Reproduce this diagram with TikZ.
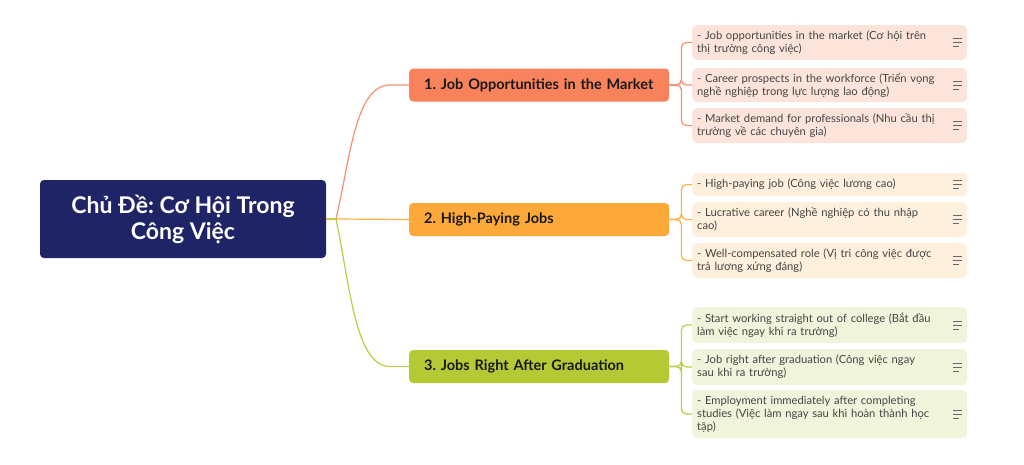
\documentclass[tikz,border=0pt]{standalone}
\usepackage{fontspec}
\setmainfont{Lato}
\usepackage{tikz}
\usetikzlibrary{calc,positioning}
\frenchspacing

\definecolor{navy}{HTML}{1F2466}
\definecolor{coral}{HTML}{F7825C}
\definecolor{amber}{HTML}{FCA93A}
\definecolor{lime}{HTML}{B4C934}
\definecolor{coralline}{HTML}{F5906E}
\definecolor{amberline}{HTML}{FDB04A}
\definecolor{limeline}{HTML}{B9CD45}
\definecolor{coralpale}{HTML}{FDE4DB}
\definecolor{amberpale}{HTML}{FEF0DC}
\definecolor{limepale}{HTML}{F0F4DA}
\definecolor{leaftext}{HTML}{444444}

\begin{document}
\begin{tikzpicture}[x=1pt, y=-1pt,
  topic/.style={rectangle, rounded corners=4pt, fill=navy, text=white, align=center,
    minimum width=286pt, minimum height=78pt, font=\fontsize{23}{26}\selectfont\bfseries},
  branch/.style={rectangle, rounded corners=4pt, anchor=west, text width=230pt, inner xsep=15pt,
    minimum height=33pt, align=left, text=black!90, font=\fontsize{14.5}{16}\selectfont\bfseries},
  leaf/.style={rectangle, rounded corners=5pt, anchor=west, text width=265pt, inner xsep=5pt,
    align=left, text=leaftext, font=\fontsize{11.2}{13}\selectfont},
  link/.style={line width=1.2pt},
  icon/.style={draw=black!60, line width=0.8pt}]

  \useasboundingbox (0,0) rectangle (1024,464);

  \node[topic] (root) at (183,219) {Chủ Đề: Cơ Hội Trong\\Công Việc};
  \coordinate (hub) at (336,219);

  \node[branch, fill=coral] (b1) at (409,85) {1. Job Opportunities in the Market};
  \node[branch, fill=amber] (b2) at (409,219.5) {2. High-Paying Jobs};
  \node[branch, fill=lime] (b3) at (409,366.5) {3. Jobs Right After Graduation};

  \node[leaf, fill=coralpale, minimum height=35pt] (l11) at (692,42.5) {- Job opportunities in the market (Cơ hội trên\\thị trường công việc)};
  \node[leaf, fill=coralpale, minimum height=34pt] (l12) at (692,85) {- Career prospects in the workforce (Triển vọng\\nghề nghiệp trong lực lượng lao động)};
  \node[leaf, fill=coralpale, minimum height=35pt] (l13) at (692,125.5) {- Market demand for professionals (Nhu cầu thị\\trường về các chuyên gia)};

  \node[leaf, fill=amberpale, minimum height=23pt] (l21) at (692,184.5) {- High-paying job (Công việc lương cao)};
  \node[leaf, fill=amberpale, minimum height=35pt] (l22) at (692,219.5) {- Lucrative career (Nghề nghiệp có thu nhập\\cao)};
  \node[leaf, fill=amberpale, minimum height=35pt] (l23) at (692,260.5) {- Well-compensated role (Vị tri công việc được\\trả lương xứng đáng)};

  \node[leaf, fill=limepale, minimum height=36pt] (l31) at (692,325) {- Start working straight out of college (Bắt đầu\\làm việc ngay khi ra trường)};
  \node[leaf, fill=limepale, minimum height=36pt] (l32) at (692,367) {- Job right after graduation (Công việc ngay\\sau khi ra trường)};
  \node[leaf, fill=limepale, minimum height=48pt] (l33) at (692,414) {- Employment immediately after completing\\studies (Việc làm ngay sau khi hoàn thành học\\tập)};

  % root to branches
  \draw[link, coralline] (root.east) -- (hub) .. controls (350,160) and (355,85) .. (390,85) -- (b1.west);
  \draw[link, amberline] (root.east) -- (hub) -- (b2.west);
  \draw[link, limeline] (root.east) -- (hub) .. controls (350,285) and (355,366.5) .. (390,366.5) -- (b3.west);

  % branches to leaves
  \foreach \l in {l11,l12,l13}
    \draw[link, coralline, rounded corners=5pt] (b1.east) -- ++(12,0) |- (\l.west);
  \foreach \l in {l21,l22,l23}
    \draw[link, amberline, rounded corners=5pt] (b2.east) -- ++(12,0) |- (\l.west);
  \foreach \l in {l31,l32,l33}
    \draw[link, limeline, rounded corners=5pt] (b3.east) -- ++(12,0) |- (\l.west);

  \foreach \l in {l11,l12,l13,l21,l22,l23,l31,l32,l33}
    \draw[icon] ($(\l.east)+(-14,-4)$) -- ++(9,0) ++(-9,4) -- ++(9,0) ++(-9,4) -- ++(6,0);
\end{tikzpicture}
\end{document}
